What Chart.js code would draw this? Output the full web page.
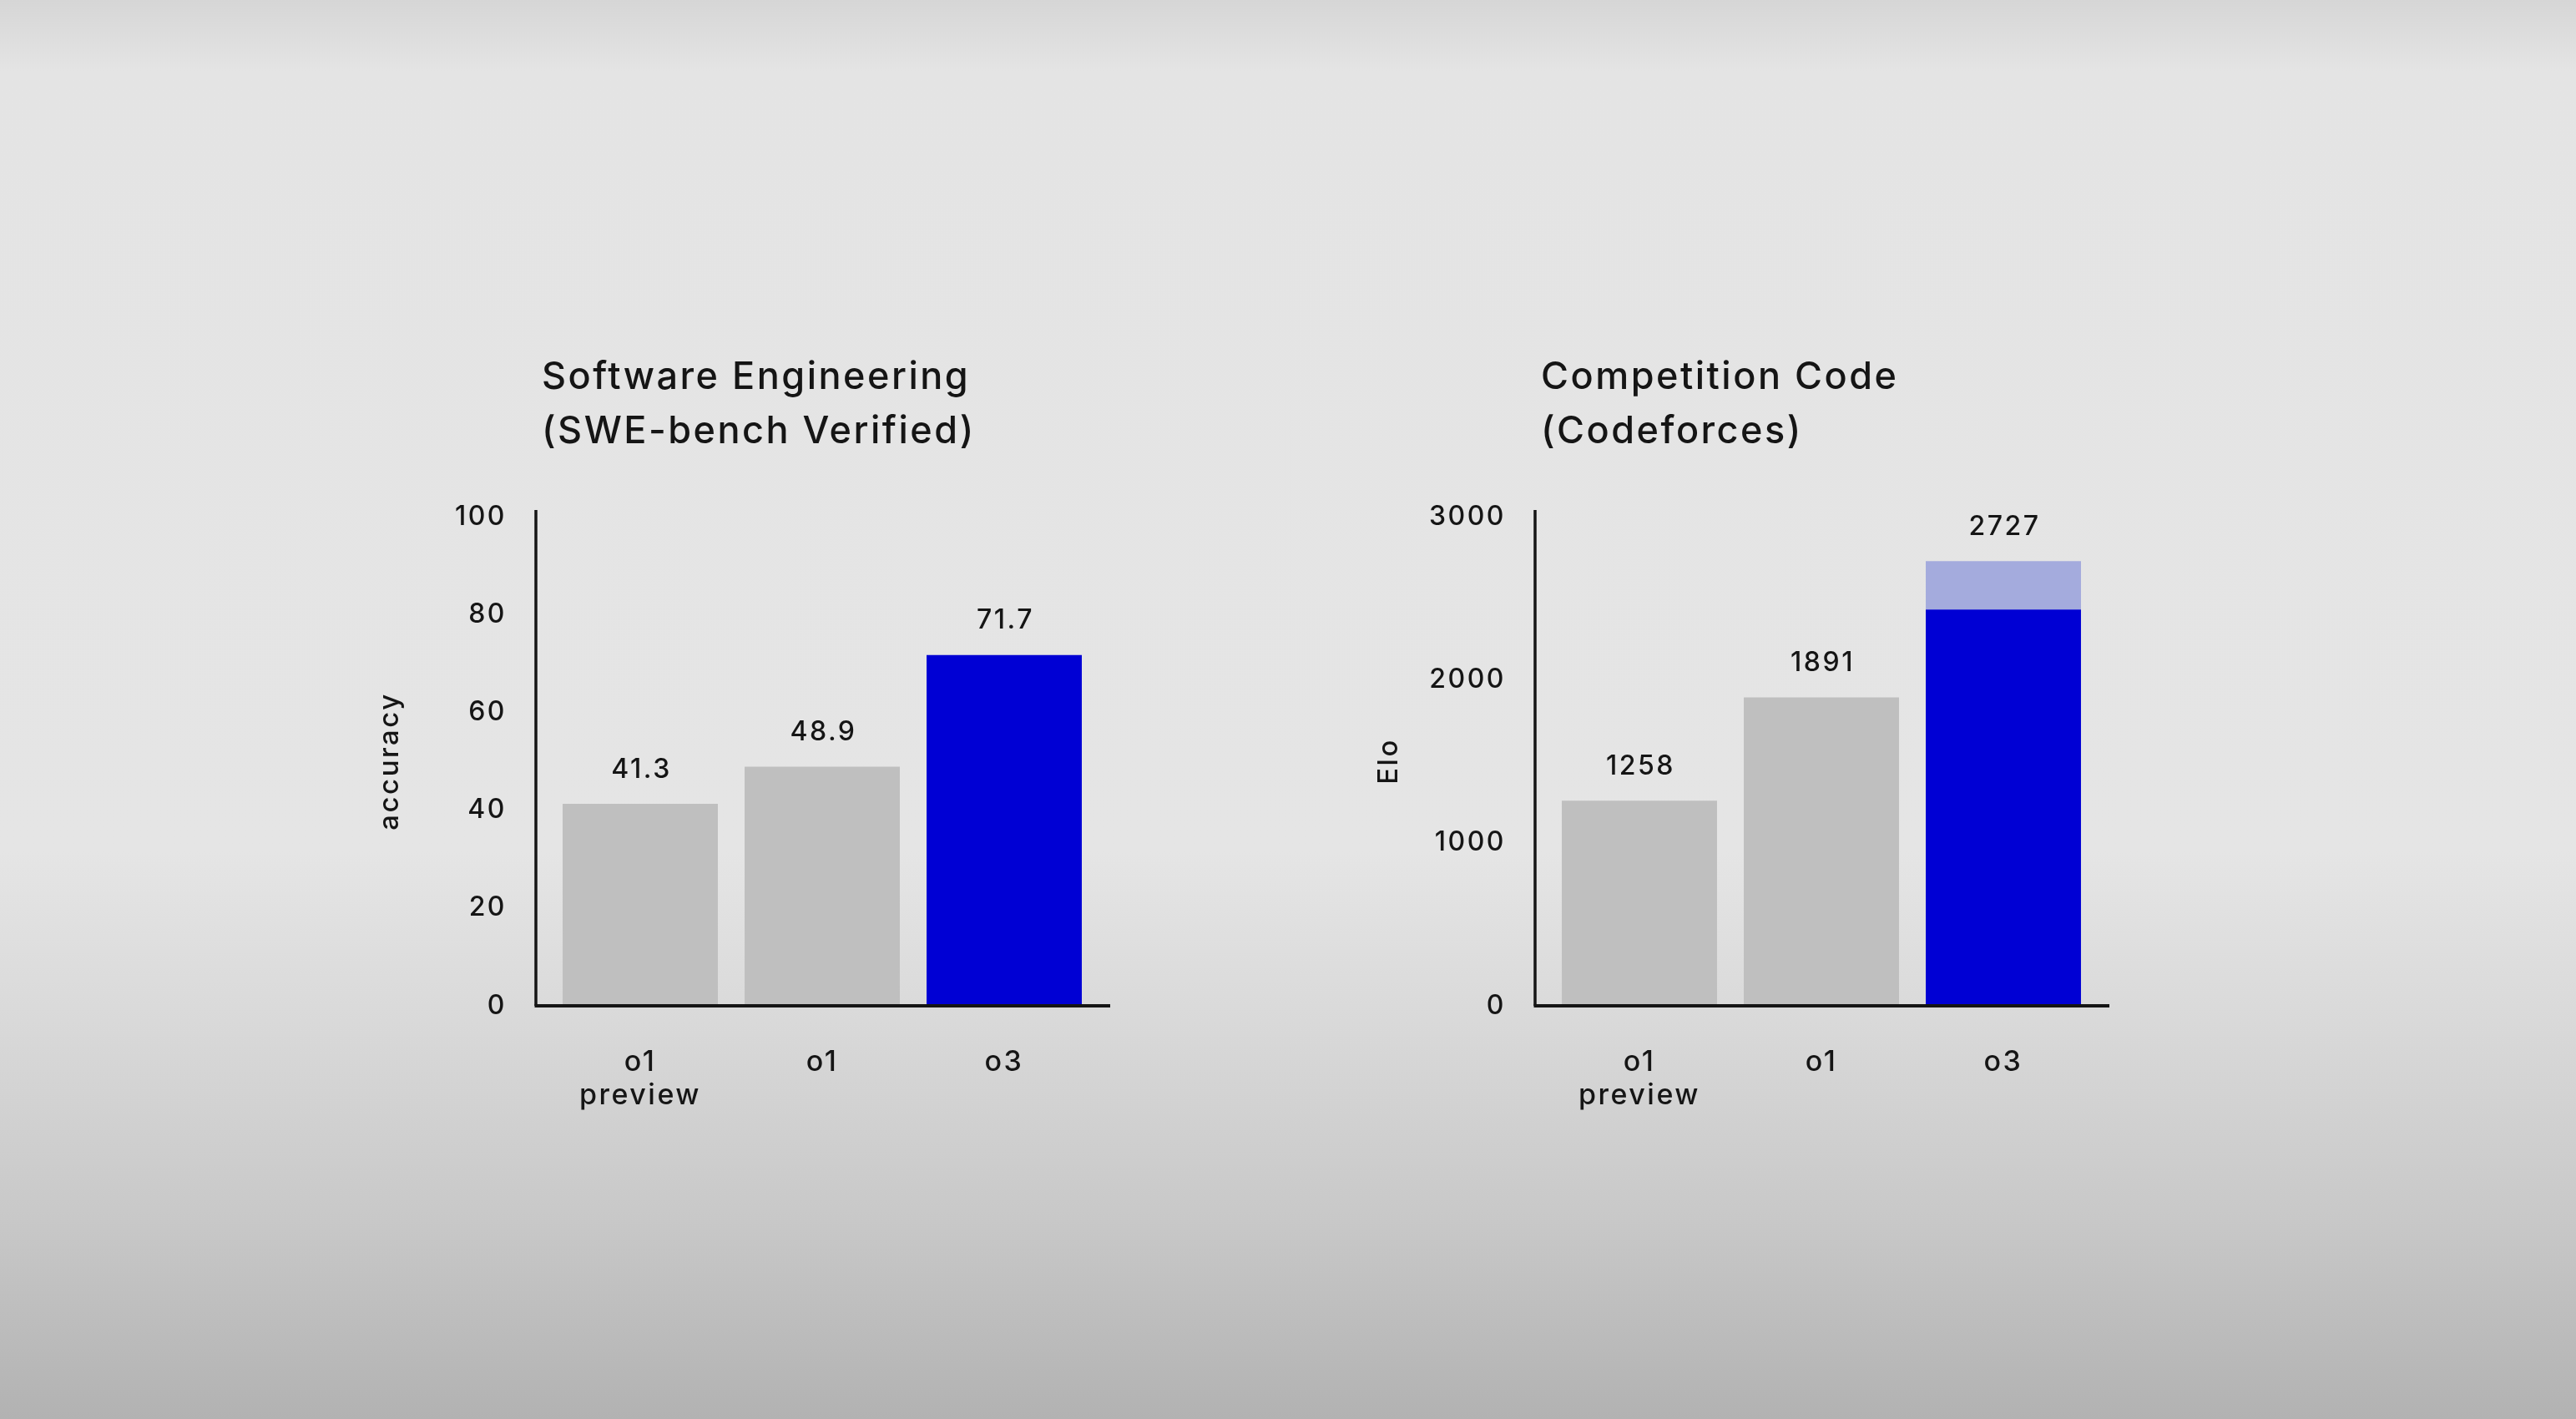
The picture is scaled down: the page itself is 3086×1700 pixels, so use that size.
<!DOCTYPE html>
<html>
<head>
<meta charset="utf-8">
<title>o3 coding benchmarks</title>
<script src="https://cdn.jsdelivr.net/npm/chart.js@4.4.1/dist/chart.umd.min.js"></script>
<style>
  html, body { margin: 0; width: 3086px; height: 1700px; overflow: hidden; }
  body {
    background: linear-gradient(to bottom, #d6d6d6 0%, #e4e4e4 5%, #e5e5e5 60%, #d9d9d9 72%, #c8c8c8 86%, #b2b2b2 100%);
  }
  .box { position: absolute; top: 380px; width: 960px; height: 1000px; }
  #left { left: 440px; }
  #right { left: 1637px; }
</style>
</head>
<body>
<div class="box" id="left"><canvas id="sweChart"></canvas></div>
<div class="box" id="right"><canvas id="cfChart"></canvas></div>

<script>
// data
const models = [['o1', 'preview'], 'o1', 'o3'];
const sweScores = [41.3, 48.9, 71.7];
const eloScores = [1258, 1891, 2727];
const eloBase = [1258, 1891, 2430];   // o3 bar has a darker lower part
const sweMax = 100, sweStep = 20;
const eloMax = 3000, eloStep = 1000;

const GREY = '#bfbfbf';
const BLUE = '#0000d4';
const LIGHT_BLUE = '#a4abdd';
const INK = '#151515';
const FONT = 'Inter, "Liberation Sans", sans-serif';

Chart.defaults.font.family = FONT;
Chart.defaults.font.weight = '500';
Chart.defaults.color = INK;

// the slide font is wider than Inter, open it up a bit
const wideText = {
  id: 'wideText',
  beforeDraw(chart) { chart.ctx.letterSpacing = '2.5px'; },
  afterLayout(chart) {
    // title sits a little left of the plot area
    const t = chart.titleBlock;
    if (t) { t.left -= 9; t.right -= 9; }
  }
};

// value labels above the bars + the black axis lines
const decorations = {
  id: 'decorations',
  afterDatasetsDraw(chart, args, opts) {
    const { ctx, chartArea } = chart;
    const y = chart.scales.y;
    const meta = chart.getDatasetMeta(0);

    ctx.save();
    ctx.strokeStyle = INK;
    ctx.lineWidth = 3.5;
    ctx.beginPath();
    ctx.moveTo(chartArea.left - 16, chartArea.top - 8);
    ctx.lineTo(chartArea.left - 16, chartArea.bottom);
    ctx.stroke();
    ctx.lineWidth = 4;
    ctx.beginPath();
    ctx.moveTo(chartArea.left - 17.5, chartArea.bottom);
    ctx.lineTo(chartArea.right + 18, chartArea.bottom);
    ctx.stroke();

    ctx.fillStyle = INK;
    ctx.font = '500 32px ' + FONT;
    ctx.textAlign = 'center';
    ctx.textBaseline = 'middle';
    opts.totals.forEach((v, i) => {
      const bar = meta.data[i];
      ctx.fillText(opts.format(v), bar.x + 1.5, y.getPixelForValue(v) - 41);
    });
    ctx.restore();
  }
};

function makeChart(id, title, axisTitle, datasets, totals, max, step, format) {
  return new Chart(document.getElementById(id), {
    type: 'bar',
    data: { labels: models, datasets: datasets },
    plugins: [wideText, decorations],
    options: {
      responsive: true,
      maintainAspectRatio: false,
      devicePixelRatio: 1,
      animation: false,
      layout: { padding: { left: 0, right: 88, top: 0, bottom: 0 } },
      plugins: {
        legend: { display: false },
        tooltip: { enabled: false },
        title: {
          display: true,
          text: title,
          align: 'start',
          fullSize: false,
          color: INK,
          font: { size: 45, weight: '500', lineHeight: 1.444 },
          padding: { top: 40, bottom: 69 }
        },
        decorations: { totals: totals, format: format }
      },
      scales: {
        x: {
          stacked: true,
          grid: { display: false, drawTicks: false },
          border: { display: false },
          ticks: { padding: 47, color: INK, font: { size: 34, lineHeight: 1.2 } },
          afterFit(s) { s.height = 175; }
        },
        y: {
          stacked: true,
          min: 0,
          max: max,
          grid: { display: false, drawTicks: false },
          border: { display: false },
          ticks: {
            stepSize: step,
            padding: 51,
            color: INK,
            font: { size: 32 },
            callback: v => String(v)
          },
          title: {
            display: true,
            text: axisTitle,
            color: INK,
            font: { size: 33 },
            padding: { top: 7, bottom: 0 }
          },
          afterFit(s) { s.width = 218; }
        }
      }
    }
  });
}

makeChart('sweChart',
  ['Software Engineering', '(SWE-bench Verified)'],
  'accuracy',
  [{
    data: sweScores,
    backgroundColor: [GREY, GREY, BLUE],
    barPercentage: 0.853,
    categoryPercentage: 1
  }],
  sweScores, sweMax, sweStep, v => v.toFixed(1));

makeChart('cfChart',
  ['Competition Code', '(Codeforces)'],
  'Elo',
  [{
    data: eloBase,
    backgroundColor: [GREY, GREY, BLUE],
    barPercentage: 0.853,
    categoryPercentage: 1
  }, {
    data: eloScores.map((v, i) => v - eloBase[i]),
    backgroundColor: LIGHT_BLUE,
    barPercentage: 0.853,
    categoryPercentage: 1
  }],
  eloScores, eloMax, eloStep, v => String(v));
</script>
</body>
</html>
